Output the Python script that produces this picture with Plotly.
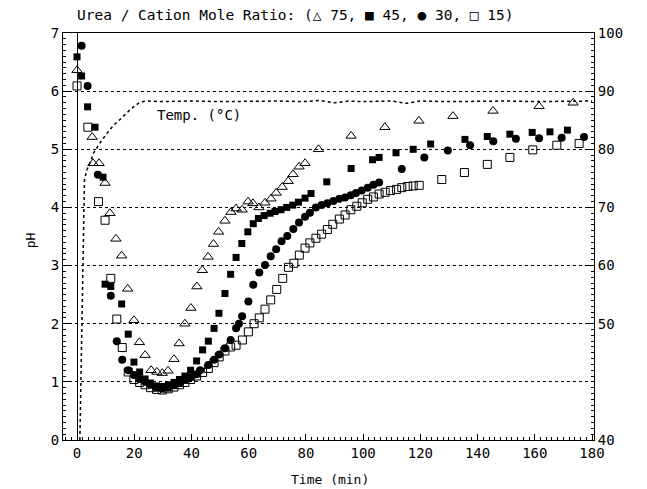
import plotly.graph_objects as go

# ---- data ----
tri_t = [0, 5.3, 5.6, 7.7, 9.8, 11.5, 13.6, 15.6, 17.7, 19.9, 21.8, 23.8, 25.9, 27.9, 29.8, 31.8, 33.9, 35.7,
         37.7, 39.8, 41.9, 43.8, 45.8, 47.7, 49.5, 51.7, 53.8, 55.6, 57.7, 59.8, 61.5, 63.6, 65.7, 67.8, 69.6,
         71.7, 73.8, 75.5, 77.6, 79.7, 84.4, 95.8, 107.6, 119.5, 131.4, 145.4, 161.5, 173.4]
tri_pH = [6.36, 5.21, 4.76, 4.76, 4.42, 3.9, 3.46, 3.17, 2.6, 2.06, 1.68, 1.46, 1.2, 1.17, 1.15, 1.19, 1.39, 1.66,
          2.0, 2.27, 2.64, 2.92, 3.15, 3.37, 3.58, 3.77, 3.92, 3.98, 3.96, 4.1, 4.07, 4.0, 4.08, 4.15, 4.25,
          4.35, 4.45, 4.57, 4.7, 4.76, 5.0, 5.23, 5.38, 5.49, 5.57, 5.66, 5.74, 5.8]

sq_t = [0, 1.6, 3.7, 6.3, 9.1, 9.8, 11.8, 15.6, 17.9, 19.9, 21.9, 23.8, 25.7, 27.8, 29.8, 31.9, 33.9, 35.8,
        37.7, 39.7, 41.8, 43.9, 45.9, 47.9, 49.6, 51.7, 53.7, 55.6, 57.6, 59.7, 61.6, 63.4, 65.4, 67.5, 69.2,
        71.3, 73.3, 75.4, 77.4, 79.7, 81.8, 87.3, 95.8, 103.3, 105.6, 111.5, 117.5, 123.6, 135.6, 143.4,
        151.3, 159.1, 165.3, 171.4]
sq_pH = [6.59, 6.26, 5.73, 5.38, 4.52, 2.68, 2.64, 2.34, 1.82, 1.34, 1.17, 1.05, 0.98, 0.93, 0.92, 0.95, 0.99,
         1.04, 1.1, 1.2, 1.36, 1.55, 1.70, 1.92, 2.18, 2.52, 2.85, 3.14, 3.38, 3.58, 3.72, 3.81, 3.86, 3.9,
         3.93, 3.96, 4.0, 4.04, 4.09, 4.16, 4.24, 4.44, 4.67, 4.82, 4.86, 4.94, 5.0, 5.09, 5.17, 5.22, 5.26,
         5.29, 5.3, 5.33]

ci_t = [1.6, 3.7, 7.3, 11.8, 13.9, 15.8, 17.9, 19.9, 21.9, 23.8, 25.7, 27.8, 29.8, 31.9, 33.9, 35.8, 37.7,
        39.7, 41.8, 43.0, 45.9, 47.9, 49.7, 51.7, 53.7, 55.6, 56.6, 57.7, 59.9, 61.6, 63.7, 65.7, 67.7, 69.6,
        71.5, 73.5, 75.6, 77.6, 79.7, 81.4, 83.5, 85.5, 87.5, 89.6, 91.7, 93.7, 95.7, 97.5, 99.5, 101.6,
        103.6, 105.6, 113.5, 121.4, 129.6, 137.4, 145.5, 153.4, 161.5, 169.4, 177.2]
ci_pH = [6.78, 6.09, 4.56, 2.48, 1.7, 1.38, 1.2, 1.12, 1.05, 1.0, 0.95, 0.9, 0.88, 0.9, 0.94, 0.98, 1.03,
         1.08, 1.13, 1.2, 1.29, 1.38, 1.47, 1.58, 1.72, 1.92, 2.0, 2.13, 2.38, 2.67, 2.88, 3.01, 3.16, 3.28,
         3.42, 3.51, 3.63, 3.74, 3.84, 3.91, 4.0, 4.04, 4.07, 4.11, 4.15, 4.17, 4.21, 4.25, 4.29, 4.34,
         4.39, 4.43, 4.66, 4.86, 4.98, 5.07, 5.14, 5.18, 5.19, 5.2, 5.21]

os_t = [0, 3.8, 7.5, 9.8, 11.8, 13.9, 15.8, 17.9, 19.9, 21.9, 23.8, 25.7, 27.8, 29.8, 31.9, 33.9, 35.8, 37.7,
        39.7, 41.8, 43.9, 45.9, 47.9, 49.7, 51.7, 53.7, 55.6, 57.8, 59.9, 61.9, 63.7, 65.7, 67.7, 69.8, 71.9,
        73.9, 75.8, 77.7, 79.7, 81.4, 83.5, 85.5, 87.5, 89.4, 91.7, 93.7, 95.7, 97.8, 99.7, 101.6, 103.6,
        105.6, 107.7, 109.6, 111.7, 113.5, 115.6, 117.5, 119.6, 127.5, 135.4, 143.4, 151.3, 159.3, 167.7, 175.5]
os_pH = [6.09, 5.38, 4.1, 3.78, 2.78, 2.08, 1.59, 1.17, 1.04, 0.99, 0.95, 0.9, 0.87, 0.86, 0.88, 0.91, 0.95,
         0.99, 1.04, 1.1, 1.16, 1.23, 1.33, 1.43, 1.53, 1.6, 1.63, 1.72, 1.86, 2.0, 2.1, 2.25, 2.41, 2.59,
         2.78, 2.97, 3.04, 3.18, 3.3, 3.39, 3.47, 3.54, 3.62, 3.71, 3.8, 3.87, 3.96, 4.02, 4.08, 4.14, 4.18,
         4.23, 4.26, 4.29, 4.31, 4.34, 4.36, 4.37, 4.38, 4.48, 4.6, 4.74, 4.86, 4.99, 5.07, 5.1]

temp_t = [1.0, 1.3, 1.5, 1.7, 2.0, 2.3, 2.6, 3.4, 4.5, 5.7, 6.9, 8.6, 10.4, 12.7, 15.6, 19, 22, 24, 30, 40,
          50, 60, 70, 80, 85, 90, 95, 100, 110, 115, 120, 130, 140, 150, 160, 170, 180]
temp_T = [30, 38, 46, 54, 62, 69, 74.7, 76.4, 77.6, 79.3, 80.3, 81.5, 82.7, 84.1, 85.4, 87.0, 88.1, 88.3,
          88.2, 88.3, 88.2, 88.3, 88.3, 88.2, 88.4, 88.0, 88.3, 88.2, 88.3, 87.9, 88.3, 88.2, 88.3, 88.3,
          88.2, 88.3, 88.3]

right_tickvals = [30, 50, 60, 70, 80, 90, 100]
right_ticktext = ["40", "50", "60", "70", "80", "90", "100"]

FONT = "DejaVu Sans Mono"
K = "black"

fig = go.Figure()
fig.add_trace(go.Scatter(x=temp_t, y=temp_T, yaxis="y2", mode="lines",
                         line=dict(color=K, width=1.5, dash="dot"), showlegend=False))
fig.add_trace(go.Scatter(x=tri_t, y=tri_pH, mode="markers",
                         marker=dict(symbol="triangle-up-open", size=9, color=K, line=dict(width=1)),
                         showlegend=False))
fig.add_trace(go.Scatter(x=sq_t, y=sq_pH, mode="markers",
                         marker=dict(symbol="square", size=7, color=K), showlegend=False))
fig.add_trace(go.Scatter(x=ci_t, y=ci_pH, mode="markers",
                         marker=dict(symbol="circle", size=8, color=K), showlegend=False))
fig.add_trace(go.Scatter(x=os_t, y=os_pH, mode="markers",
                         marker=dict(symbol="square-open", size=8, color=K, line=dict(width=1)),
                         showlegend=False))

tickfont = dict(family=FONT, size=14, color=K)
fig.update_layout(
    width=647, height=489,
    margin=dict(l=63, r=53, t=33, b=49),
    paper_bgcolor="white", plot_bgcolor="white",
    font=dict(family=FONT, size=13, color=K),
    xaxis=dict(range=[-4.9, 180.7], tick0=0, dtick=20, ticks="inside", ticklen=6, tickcolor=K,
               showline=True, linecolor=K, linewidth=1, mirror=True, showgrid=False,
               zeroline=True, zerolinecolor=K, zerolinewidth=1, tickfont=tickfont,
               minor=dict(dtick=2, ticks="inside", ticklen=3, tickcolor=K)),
    yaxis=dict(range=[0, 7], dtick=1, ticks="inside", ticklen=6, tickcolor=K,
               showline=True, linecolor=K, linewidth=1, showgrid=True, gridcolor=K,
               griddash="dot", gridwidth=1, zeroline=False, tickfont=tickfont,
               minor=dict(dtick=0.1, ticks="inside", ticklen=3, tickcolor=K)),
    yaxis2=dict(range=[30, 100], overlaying="y", side="right", tickvals=right_tickvals,
                ticktext=right_ticktext, ticks="inside", ticklen=6, tickcolor=K,
                showline=True, linecolor=K, linewidth=1, showgrid=False, zeroline=False,
                tickfont=tickfont, minor=dict(dtick=1, ticks="inside", ticklen=3, tickcolor=K)),
    annotations=[
        dict(text="Urea / Cation Mole Ratio: (△ 75, ■ 45, ● 30, □ 15)", xref="paper", yref="paper",
             x=0.022, y=1.045, xanchor="left", yanchor="middle", showarrow=False,
             font=dict(family=FONT, size=14.5, color=K)),
        dict(text="Temp. (°C)", xref="x", yref="y", x=27.3, y=5.59, xanchor="left", yanchor="middle",
             showarrow=False, font=dict(family=FONT, size=14, color=K)),
        dict(text="Time (min)", xref="paper", yref="paper", x=0.503, y=-0.098, xanchor="center",
             yanchor="middle", showarrow=False, font=dict(family=FONT, size=13, color=K)),
        dict(text="pH", xref="paper", yref="paper", x=-0.062, y=0.491, xanchor="center",
             yanchor="middle", textangle=-90, showarrow=False, font=dict(family=FONT, size=13, color=K)),
    ],
)

fig.write_html("out.html", config={"displayModeBar": False},
               post_script="document.body.style.margin='0px';")
